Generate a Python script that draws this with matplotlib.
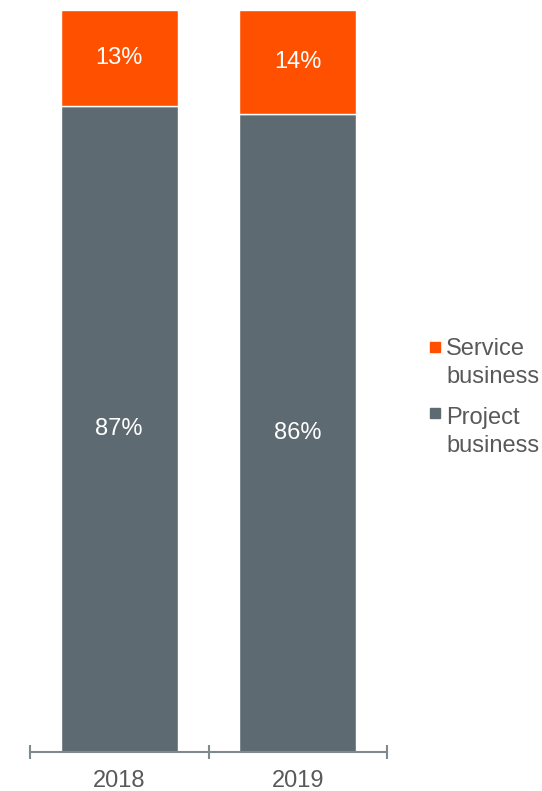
import numpy as np
import matplotlib
matplotlib.use('Agg')
import matplotlib.pyplot as plt
from matplotlib.patches import Rectangle

plt.rcParams['font.family'] = ['Liberation Sans', 'DejaVu Sans']

years = ['2018', '2019']
project = [87, 86]
service = [13, 14]
series_names = ['Service\nbusiness', 'Project\nbusiness']

ORANGE = '#FF5000'
GREY = '#5E6A71'
TEXT = '#595959'
AXIS = '#7F8A90'

fig = plt.figure(figsize=(5.42, 7.91), dpi=100)
ax = fig.add_axes([30 / 542, 39 / 791, 357 / 542, 742 / 791])

x = np.arange(len(years))
w = 0.655
ax.bar(x, project, width=w, color=GREY, edgecolor='white', linewidth=1)
ax.bar(x, service, width=w, bottom=project, color=ORANGE, edgecolor='white', linewidth=1)

for xi, p, s in zip(x, project, service):
    ax.text(xi, p / 2, f'{p}%', ha='center', va='center', color='white', fontsize=17)
    ax.text(xi, p + s / 2, f'{s}%', ha='center', va='center', color='white', fontsize=17)

ax.set_xlim(-0.5, len(years) - 0.5)
ax.set_ylim(0, 100)
for side in ['top', 'right', 'left']:
    ax.spines[side].set_visible(False)
ax.spines['bottom'].set_color(AXIS)
ax.spines['bottom'].set_linewidth(1.5)
ax.set_yticks([])

# labels at bar centres, tick marks between categories
ax.set_xticks(x)
ax.set_xticklabels(years, fontsize=17, color=TEXT)
ax.tick_params(axis='x', which='major', length=0, pad=13)
ax.set_xticks(np.arange(-0.5, len(years)), minor=True)
ax.tick_params(axis='x', which='minor', direction='inout', length=10,
               width=1.5, color=AXIS)

# legend drawn by hand on the right
legend_colors = [ORANGE, GREY]
legend_y = [347, 413]
text_y = [363, 432]
for name, col, yp, ty in zip(series_names, legend_colors, legend_y, text_y):
    fig.add_artist(Rectangle((430 / 542, 1 - (yp + 5) / 791), 10 / 542, 10 / 791,
                             transform=fig.transFigure, color=col))
    fig.text(446 / 542, 1 - ty / 791, name, ha='left', va='center',
             fontsize=17, color=TEXT, linespacing=1.35)

fig.savefig('out.png', dpi=100)
